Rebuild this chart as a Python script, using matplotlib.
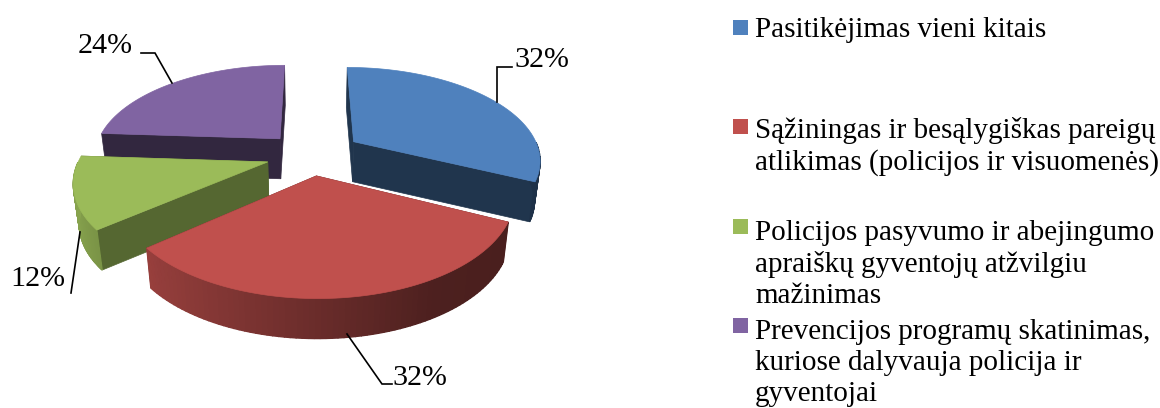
import numpy as np
import matplotlib
matplotlib.use('Agg')
import matplotlib.pyplot as plt

plt.rcParams['font.family'] = ['Liberation Serif', 'DejaVu Serif']

# Chart data
categories = [
    'Pasitikėjimas vieni kitais',
    'Sąžiningas ir besąlygiškas pareigų\natlikimas (policijos ir visuomenės)',
    'Policijos pasyvumo ir abejingumo\napraiškų gyventojų atžvilgiu\nmažinimas',
    'Prevencijos programų skatinimas,\nkuriose dalyvauja policija ir\ngyventojai',
]
values = [32, 32, 12, 24]
labels = ['32%', '32%', '12%', '24%']

# Colours
colors = ['#4f81bd', '#c0504d', '#9bbb59', '#8064a2']
cut_shade = [0.41, 0.5, 0.55, 0.39]

# Pie projection settings (pixels)
cx, cy = 311, 155
rx, ry = 187, 92
persp = 0.18
explode = [0.277, 0.22, 0.24, 0.25]
depth = 40
base_shrink = 0.975

# Label and leader placement
label_xy = [(514, 67), (392, 385), (10, 286), (78, 53)]
leaders = [
    ([497, 497, 512], [102, 67, 67]),
    ([347, 382, 392], [334, 384, 384]),
    ([80, 71], [232, 293]),
    ([172, 155, 141], [83, 53, 53]),
]

# Legend placement
legend_x = 755
legend_base = [37, 136, 236, 334]
legend_box = [20, 119, 219, 318]
line_step = 33.3


def project(u, v, drop=0):
    k = 1 + persp * v
    x = cx + rx * u / k
    if drop:
        x = cx + (x - cx) * base_shrink
    return x, cy - ry * v / k + drop


def rim_shade(angle):
    return np.interp(np.cos(angle), [-1, -0.75, 0, 0.5, 1], [0.88, 0.78, 0.55, 0.4, 0.38])


def scaled(color, f):
    rgb = np.array(matplotlib.colors.to_rgb(color))
    return tuple(rgb * f)


fig = plt.figure(figsize=(11.6, 4.08), dpi=100)
ax = fig.add_axes([0, 0, 1, 1])
ax.set_xlim(0, 1160)
ax.set_ylim(408, 0)
ax.axis('off')

# Slices run clockwise from 12 o'clock
shares = np.array(values) / sum(values) * 2 * np.pi
ends = np.pi / 2 - np.cumsum(shares)
starts = ends + shares
slices = []
for i in range(len(values)):
    mid = (starts[i] + ends[i]) / 2
    ou, ov = explode[i] * np.cos(mid), explode[i] * np.sin(mid)
    theta = np.linspace(starts[i], ends[i], 80)
    slices.append((i, ou, ov, theta))

# Back slices first, red sits on top of everything
for i, ou, ov, theta in [slices[3], slices[0], slices[2], slices[1]]:
    u = ou + np.cos(theta)
    v = ov + np.sin(theta)
    xt, yt = project(u, v)
    xb, yb = project(u, v, depth)
    ax0, ay0 = project(ou, ov)
    bx0, by0 = project(ou, ov, depth)

    # cut faces
    for j in (0, -1):
        ax.fill([ax0, xt[j], xb[j], bx0], [ay0, yt[j], yb[j], by0],
                color=scaled(colors[i], cut_shade[i]), lw=0.5)

    # outer wall, only the part that faces the viewer, shaded strip by strip
    for j in range(len(theta) - 1):
        mid_a = (theta[j] + theta[j + 1]) / 2
        if np.sin(mid_a) > 0:
            continue
        ax.fill([xt[j], xt[j + 1], xb[j + 1], xb[j]], [yt[j], yt[j + 1], yb[j + 1], yb[j]],
                color=scaled(colors[i], rim_shade(mid_a)), lw=1.0)

    # top face
    ax.fill(np.r_[ax0, xt], np.r_[ay0, yt], color=colors[i], lw=0.5)

# Data labels and leader lines
for (lx, ly), txt, (px, py) in zip(label_xy, labels, leaders):
    ax.plot(px, py, color='black', lw=1.2, solid_joinstyle='miter')
    ax.text(lx, ly, txt, fontsize=21.6, ha='left', va='baseline', color='black')

# Legend, va='baseline' sits on the last line of a wrapped entry
for i, name in enumerate(categories):
    ax.add_patch(plt.Rectangle((733, legend_box[i]), 15, 15, color=colors[i], lw=0))
    extra = name.count('\n') * line_step
    ax.text(legend_x, legend_base[i] + extra, name, fontsize=21, ha='left', va='baseline',
            linespacing=1.24, color='black')

fig.savefig('out.png', dpi=100)
